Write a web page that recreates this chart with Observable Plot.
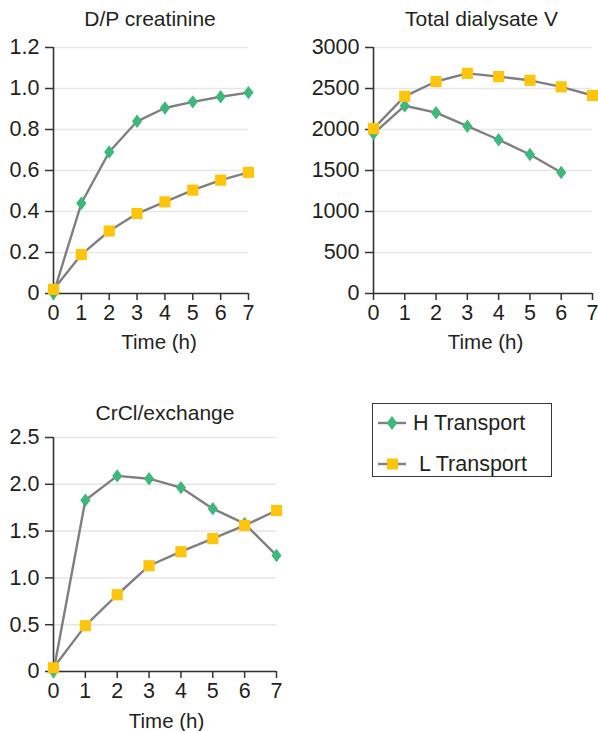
<!DOCTYPE html>
<html>
<head>
<meta charset="utf-8">
<script src="https://cdn.jsdelivr.net/npm/d3@7"></script>
<script src="https://cdn.jsdelivr.net/npm/@observablehq/plot@0.6"></script>
<style>
  html, body { margin: 0; padding: 0; background: #fff; }
  #root { position: relative; width: 598px; height: 731px; font-family: "Liberation Sans", Arial, Helvetica, sans-serif; color: #231f20; }
  .panel { position: absolute; }
  .panel svg { overflow: visible; }
  #legend { position: absolute; left: 372px; top: 403px; width: 178px; height: 72px; border: 1.5px solid #3a3a3a; background: #fff; }
  .leg-item { position: absolute; left: 0; height: 24px; display: flex; align-items: center; font-size: 21.5px; }
</style>
</head>
<body>
<div id="root">
  <div id="p1" class="panel" style="left:0;top:0"></div>
  <div id="p2" class="panel" style="left:300px;top:0"></div>
  <div id="p3" class="panel" style="left:0;top:390px"></div>
  <div id="legend"></div>
</div>
<script>
// ---- Data ----
const time = [0, 1, 2, 3, 4, 5, 6, 7];
const seriesNames = ["H Transport", "L Transport"];

const dpH = [0.0, 0.44, 0.69, 0.84, 0.905, 0.935, 0.96, 0.98];
const dpL = [0.02, 0.19, 0.305, 0.39, 0.447, 0.504, 0.553, 0.591];

const volTimeH = [0, 1, 2, 3, 4, 5, 6];
const volH = [1950, 2290, 2205, 2040, 1875, 1695, 1475];
const volL = [2010, 2405, 2585, 2685, 2645, 2600, 2520, 2415];

const crH = [0.0, 1.83, 2.09, 2.06, 1.965, 1.74, 1.58, 1.24];
const crL = [0.04, 0.49, 0.82, 1.13, 1.28, 1.42, 1.56, 1.72];

const xTicks = [0, 1, 2, 3, 4, 5, 6, 7];
const dpTicks = [0, 0.2, 0.4, 0.6, 0.8, 1.0, 1.2];
const volTicks = [0, 500, 1000, 1500, 2000, 2500, 3000];
const crTicks = [0, 0.5, 1.0, 1.5, 2.0, 2.5];

const titles = ["D/P creatinine", "Total dialysate V", "CrCl/exchange"];
const xLabel = "Time (h)";

// ---- Styles ----
const GREEN = "#3bb87a";
const YELLOW = "#ffc40c";
const LINE = "#7f7f7f";
const AXIS = "#333333";
const GRID = "#e6e6e6";
const FONT = "'Liberation Sans', Arial, Helvetica, sans-serif";

const diamond = {
  draw(ctx, size) {
    const r = Math.sqrt(size / Math.PI);
    const hy = r * 1.08, hx = r * 0.82;
    ctx.moveTo(0, -hy); ctx.lineTo(hx, 0); ctx.lineTo(0, hy); ctx.lineTo(-hx, 0); ctx.closePath();
  }
};

const rows = (xs, ys) => ys.map((v, i) => ({t: xs[i], v}));
const fmt1 = d => d === 0 ? "0" : d.toFixed(1);
const fmt0 = d => String(d);

function panel(o) {
  const H = rows(o.xH, o.H), L = rows(o.xL, o.L);
  return Plot.plot({
    width: o.width, height: o.height,
    marginLeft: o.ml, marginRight: o.mr, marginTop: o.mt, marginBottom: o.mb,
    style: {fontFamily: FONT, fontSize: "21px", color: "#231f20", background: "transparent", overflow: "visible"},
    x: {domain: [0, 7]},
    y: {domain: o.yDomain},
    marks: [
      Plot.gridY({ticks: o.yTicks, stroke: GRID, strokeOpacity: 1, strokeWidth: 1.5}),
      Plot.axisY({ticks: o.yTicks, tickFormat: o.fmt, tickSize: 8, tickPadding: 6, stroke: AXIS, strokeWidth: 1.5, label: null, fontSize: 21.5}),
      Plot.axisX({ticks: xTicks, tickFormat: fmt0, tickSize: 7, tickPadding: 4, stroke: AXIS, strokeWidth: 1.5, label: null, fontSize: 21.5}),
      Plot.ruleX([0], {stroke: AXIS, strokeWidth: 1.6}),
      Plot.ruleY([0], {stroke: AXIS, strokeWidth: 1.6}),
      Plot.line(H, {x: "t", y: "v", stroke: LINE, strokeWidth: 2.4}),
      Plot.line(L, {x: "t", y: "v", stroke: LINE, strokeWidth: 2.4}),
      Plot.dot(H, {x: "t", y: "v", symbol: diamond, r: 6.2, fill: GREEN, stroke: null}),
      Plot.dot(L, {x: "t", y: "v", symbol: "square", r: 6.3, fill: YELLOW, stroke: null}),
      Plot.text([o.title], {frameAnchor: "top", lineAnchor: "middle", dy: o.tdy, dx: o.tdx, fontSize: 21, fill: "#231f20"}),
      Plot.text([xLabel], {frameAnchor: "bottom", lineAnchor: "middle", dy: o.ldy, dx: o.ldx, fontSize: 20.5, fill: "#231f20"})
    ]
  });
}

document.getElementById("p1").append(panel({
  xH: time, H: dpH, xL: time, L: dpL, yDomain: [0, 1.2], yTicks: dpTicks, fmt: fmt1,
  width: 300, height: 360, ml: 53, mr: 52, mt: 47, mb: 67,
  title: titles[0], tdy: -28, tdx: -1, ldy: 49, ldx: 8
}));

document.getElementById("p2").append(panel({
  xH: volTimeH, H: volH, xL: time, L: volL, yDomain: [0, 3000], yTicks: volTicks, fmt: fmt0,
  width: 298, height: 360, ml: 73, mr: 6, mt: 47, mb: 67,
  title: titles[1], tdy: -28, tdx: -1.5, ldy: 49, ldx: 2.5
}));

document.getElementById("p3").append(panel({
  xH: time, H: crH, xL: time, L: crL, yDomain: [0, 2.5], yTicks: crTicks, fmt: fmt1,
  width: 300, height: 341, ml: 53, mr: 24, mt: 47, mb: 60,
  title: titles[2], tdy: -24, tdx: 0, ldy: 50, ldx: 1.5
}));

// ---- Legend ----
const legend = document.getElementById("legend");
const legendItems = [
  {name: seriesNames[0], color: GREEN, shape: "diamond", top: 7, textLeft: 40},
  {name: seriesNames[1], color: YELLOW, shape: "square", top: 48, textLeft: 46}
];
for (const it of legendItems) {
  const div = document.createElement("div");
  div.className = "leg-item";
  div.style.top = it.top + "px";
  div.style.width = "178px";
  const ns = "http://www.w3.org/2000/svg";
  const svg = document.createElementNS(ns, "svg");
  svg.setAttribute("width", 40); svg.setAttribute("height", 24);
  svg.style.position = "absolute"; svg.style.left = "0px"; svg.style.top = "0px";
  const ln = document.createElementNS(ns, "line");
  ln.setAttribute("x1", 5); ln.setAttribute("x2", 33); ln.setAttribute("y1", 12); ln.setAttribute("y2", 12);
  ln.setAttribute("stroke", LINE); ln.setAttribute("stroke-width", 2.4);
  svg.append(ln);
  let m;
  if (it.shape === "diamond") {
    m = document.createElementNS(ns, "path");
    m.setAttribute("d", "M19,5 L24.3,12 L19,19 L13.7,12 Z");
  } else {
    m = document.createElementNS(ns, "rect");
    m.setAttribute("x", 14); m.setAttribute("y", 6.5); m.setAttribute("width", 11); m.setAttribute("height", 11);
  }
  m.setAttribute("fill", it.color);
  svg.append(m);
  div.append(svg);
  const span = document.createElement("span");
  span.textContent = it.name;
  span.style.position = "absolute"; span.style.left = it.textLeft + "px"; span.style.lineHeight = "24px"; span.style.top = "0px";
  div.append(span);
  legend.append(div);
}
</script>
</body>
</html>
